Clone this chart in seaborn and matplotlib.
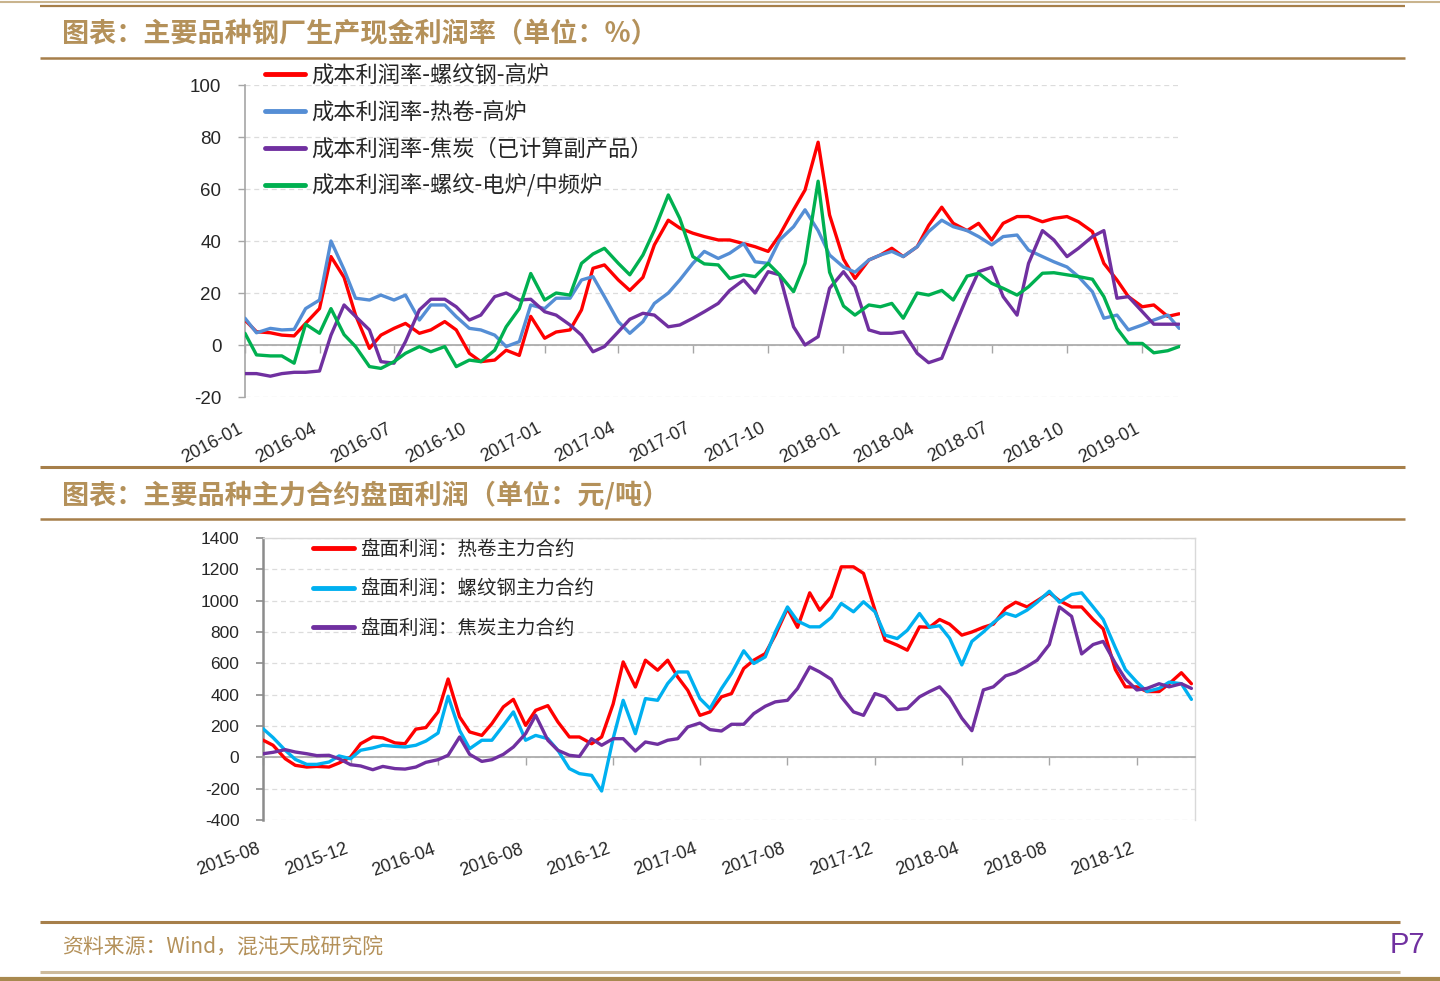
import matplotlib
matplotlib.use('Agg')
import numpy as np
import pandas as pd
import matplotlib.pyplot as plt
import seaborn as sns
from matplotlib.lines import Line2D
from matplotlib import font_manager as fm
import matplotlib.dates as mdates

# ---------------- data ----------------
top_dates = pd.date_range('2016-01-01', periods=76, freq='SMS')
top_labels = ['成本利润率-螺纹钢-高炉', '成本利润率-热卷-高炉',
              '成本利润率-焦炭（已计算副产品）', '成本利润率-螺纹-电炉/中频炉']
top_red = [9.6, 5.1, 4.7, 3.8, 3.5, 8.3, 14, 34, 26, 11.5, -1.3, 3.8, 6.4, 8.3, 4.5, 5.8, 9, 5.8, -3.2, -6.4,
           -5.8, -2, -4, 11, 2.6, 5,
           5.8, 13.5, 29.5, 30.8, 25, 21, 26, 38.5, 48, 45, 43, 41.7, 40.4, 40.4, 39, 37.8, 36, 42.3, 52, 59.6,
           78, 50,
           33, 25.6, 32.7, 34.6, 37.2, 34, 37.8, 46, 53, 46.8, 44, 46.8, 40.4, 46.8, 49.4, 49.4, 47.4, 48.7,
           49.4, 47.4, 43.6, 31.4, 25, 18.6, 14.7, 15.4, 11, 12]
top_blue = [10.3, 4.7, 6.4, 5.8, 6, 14, 17.3, 40, 29, 18, 17.3, 19.2, 17.3, 19.2, 9.6, 15.4, 15.4, 10.9, 6.4,
            5.8, 3.8, -0.6, 1.3, 15.4, 14, 18,
            18, 25, 26.3, 18.6, 9, 4.5, 9, 16, 20, 25, 31.4, 36, 33.3, 35.3, 39, 32, 31.4, 40.4, 45.5, 52, 44,
            34.6,
            30, 28, 32.7, 34.6, 36, 34, 37.8, 43.6, 48, 45.5, 44, 41.7, 38.5, 41.7, 42.3, 36.5, 34, 32, 30,
            26.3, 20.5, 10.3, 11.5, 5.8, 7.7, 9.6, 11.5, 6.4]
top_purple = [-11, -11, -12, -11, -10.5, -10.5, -10, 3.8, 15.4, 11, 5.8, -6.4, -7, 1.3, 13.5, 17.6, 17.6, 14.7,
              9.6, 11.5, 18.6, 20, 17.3, 17.6, 12.8, 11.5,
              7.7, 3.8, -2.6, -0.6, 5.1, 9.9, 12.2, 11.5, 7, 7.7, 10.3, 12.8, 16, 21, 25, 20, 28.2, 27, 7, 0,
              3.2, 21.8,
              28.2, 22.4, 5.8, 4.5, 4.5, 5.1, -3.2, -6.8, -5.1, 5.8, 18.6, 28.2, 29.9, 18.6, 11.5, 31.4, 44,
              40.4, 34, 37.2, 41.7, 44, 18, 18.6, 12.8, 8, 8, 8]
top_green = [4.5, -3.8, -4.2, -4.2, -7, 8, 4.5, 14, 4, -0.6, -8.3, -9, -6.4, -3.2, -0.6, -2.6, -0.6, -8.3,
             -5.8, -6.4, -2, 7, 14, 27.5, 17.3, 20,
             19.2, 31.4, 35, 37.2, 31.4, 27, 34.6, 44.2, 57.7, 48.7, 34, 31.2, 30.8, 25.6, 27, 26.3, 31.4, 27,
             20.5, 31.4, 63, 28,
             15, 11.5, 15.4, 14.7, 16, 10.3, 20, 19.2, 21, 17.3, 26.5, 27.6, 23.7, 21.8, 19.2, 22.4, 27.6, 27.8,
             27, 26.3, 25.3, 18.6, 6.4, 0.6, 0.6, -3, -2.2, -0.6]
top_yticks = [-20, 0, 20, 40, 60, 80, 100]

bot_dates = pd.date_range('2015-08-01', periods=86, freq='SMS')
bot_labels = ['盘面利润：热卷主力合约', '盘面利润：螺纹钢主力合约', '盘面利润：焦炭主力合约']
bot_red = [110, 77, -9, -51, -62, -58, -62, -36, 2, 87, 130, 124, 92, 87, 180, 190, 290, 500, 258, 162, 140,
           215, 322, 370, 204, 300, 330, 226, 130, 130, 87, 130,
           340, 609, 449, 620, 556, 620, 513, 428, 268, 290, 386, 407, 567, 620, 662, 780, 950, 830, 1050, 939,
           1025, 1216, 1216, 1174, 939, 748, 716, 684, 833,
           830, 880, 850, 780, 800, 830, 850, 950, 990, 960, 1000, 1050, 1000, 960, 960, 880, 820, 560, 450,
           450, 420, 420, 470, 540, 470]
bot_blue = [183, 126, 45, -13, -45, -45, -30, 9, -9, 45, 60, 77, 70, 66, 77, 104, 155, 390, 172, 55, 109, 109,
            204, 290, 109, 140, 119, 45, -72, -104, -115, -215,
            120, 364, 151, 375, 364, 471, 545, 545, 375, 311, 439, 535, 680, 599, 641, 800, 960, 870, 833, 833,
            892, 982, 929, 993, 929, 780, 758, 811, 918,
            830, 840, 760, 590, 740, 800, 860, 920, 900, 940, 990, 1060, 990, 1040, 1050, 960, 880, 700, 560,
            480, 420, 440, 480, 470, 370]
bot_purple = [23, 32, 49, 34, 23, 11, 13, -9, -47, -55, -79, -58, -72, -75, -62, -32, -15, 13, 130, 19, -26,
              -15, 19, 66, 151, 268, 109, 45, 13, 6, 119, 77,
              119, 119, 40, 98, 83, 109, 119, 194, 219, 177, 168, 211, 211, 279, 326, 354, 364, 439, 577, 545,
              498, 386, 290, 268, 407, 386, 305, 311, 386,
              420, 450, 380, 250, 170, 430, 450, 520, 540, 580, 620, 720, 960, 900, 660, 720, 740, 600, 500,
              430, 440, 470, 450, 470, 440]
bot_yticks = [-400, -200, 0, 200, 400, 600, 800, 1000, 1200, 1400]

# ---------------- style ----------------
sns.set_style('white')
plt.rcParams['font.family'] = ['Noto Sans CJK SC', 'DejaVu Sans']
plt.rcParams['axes.unicode_minus'] = False
names = {f.name for f in fm.fontManager.ttflist}
LAT = 'Liberation Sans' if 'Liberation Sans' in names else 'DejaVu Sans'
NARROW = 'Liberation Sans Narrow' if 'Liberation Sans Narrow' in names else LAT

W, H = 1440, 981
fig = plt.figure(figsize=(W / 100, H / 100), dpi=100)

GOLD = '#B4915A'
LINEC = '#A67F4A'


def hline(y, x0, x1, color, lw):
    fig.add_artist(Line2D([x0 / W, x1 / W], [1 - y / H, 1 - y / H], transform=fig.transFigure,
                          color=color, lw=lw, solid_capstyle='butt'))


hline(1.5, 0, W, '#C9B48E', 1.5)
hline(6, 40, 1405, LINEC, 1.6)
hline(58, 40, 1405, LINEC, 1.8)
hline(467, 40, 1405, LINEC, 2.2)
hline(519, 40, 1405, LINEC, 1.8)
hline(922, 40, 1400, LINEC, 2.2)
hline(972, 40, 1400, '#CDBB9C', 2.2)
hline(979, 0, W, '#A8894F', 3.0)

fig.text(62 / W, 1 - 34 / H, '图表：主要品种钢厂生产现金利润率（单位：%）', fontsize=19.5, fontweight='bold',
         color=GOLD, va='center', ha='left')
fig.text(62 / W, 1 - 495 / H, '图表：主要品种主力合约盘面利润（单位：元/吨）', fontsize=19.5, fontweight='bold',
         color=GOLD, va='center', ha='left')
fig.text(62 / W, 1 - 948 / H, '资料来源：Wind，混沌天成研究院', fontsize=15, color=GOLD, style='italic',
         va='center', ha='left')
fig.text(1390 / W, 1 - 945 / H, 'P7', fontsize=21, color='#7030A0', family=NARROW, va='center', ha='left')

# ---------------- top chart ----------------
ax1 = fig.add_axes([245 / W, 1 - 397 / H, 935 / W, 312 / H])
top_cols = ['#FF0000', '#558ED5', '#7030A0', '#00B050']
for vals, lab, c in zip([top_red, top_blue, top_purple, top_green], top_labels, top_cols):
    sns.lineplot(x=top_dates, y=vals, ax=ax1, color=c, lw=2.4, label=lab, zorder=3)
ax1.set_xlim(pd.Timestamp('2016-01-01'), pd.Timestamp('2019-02-16'))
ax1.set_ylim(-20, 100)
ax1.set_yticks(top_yticks)
ax1.set_xticks(pd.date_range('2016-01-01', '2019-01-01', freq='QS'))
ax1.xaxis.set_major_formatter(mdates.DateFormatter('%Y-%m'))
ax1.yaxis.grid(True, ls=(0, (4, 3)), color='#DCDCDC', lw=0.9)
ax1.xaxis.grid(False)
for s in ['top', 'right']:
    ax1.spines[s].set_visible(False)
ax1.spines['left'].set_color('#A6A6A6')
ax1.spines['left'].set_linewidth(1.2)
ax1.spines['bottom'].set_position(('data', 0))
ax1.spines['bottom'].set_color('#A6A6A6')
ax1.spines['bottom'].set_linewidth(1.2)
ax1.tick_params(axis='y', direction='out', length=5, width=1, color='#A6A6A6', labelsize=13.5, pad=12,
                labelfontfamily=LAT, left=True)
ax1.tick_params(axis='x', direction='out', length=6, width=1, color='#A6A6A6', labelsize=13, pad=48,
                labelfontfamily=LAT, labelrotation=28, bottom=True)
plt.setp(ax1.get_xticklabels(), ha='right')
ax1.set_xlabel('')
ax1.set_ylabel('')
leg1 = ax1.legend(loc='upper left', bbox_to_anchor=(265 / W, 1 - 64 / H), bbox_transform=fig.transFigure,
                  frameon=False, fontsize=16, handlelength=1.8, handletextpad=0.3, labelspacing=0.62,
                  borderpad=0, borderaxespad=0)
for ln in leg1.get_lines():
    ln.set_linewidth(3.5)

# ---------------- bottom chart ----------------
ax2 = fig.add_axes([263 / W, 1 - 820 / H, 932 / W, 282 / H])
bot_cols = ['#FF0000', '#00B0F0', '#7030A0']
for vals, lab, c in zip([bot_red, bot_blue, bot_purple], bot_labels, bot_cols):
    sns.lineplot(x=bot_dates, y=vals, ax=ax2, color=c, lw=2.4, label=lab, zorder=3)
ax2.set_xlim(pd.Timestamp('2015-08-01'), pd.Timestamp('2019-02-20'))
ax2.set_ylim(-400, 1400)
ax2.set_yticks(bot_yticks)
ax2.set_xticks(pd.date_range('2015-08-01', '2018-12-01', freq='4MS'))
ax2.xaxis.set_major_formatter(mdates.DateFormatter('%Y-%m'))
ax2.yaxis.grid(True, ls=(0, (4, 3)), color='#DCDCDC', lw=0.9)
ax2.xaxis.grid(False)
for s in ['top', 'right']:
    ax2.spines[s].set_visible(True)
    ax2.spines[s].set_color('#D9D9D9')
    ax2.spines[s].set_linewidth(1.0)
ax2.spines['left'].set_color('#8C8C8C')
ax2.spines['left'].set_linewidth(1.8)
ax2.spines['bottom'].set_position(('data', 0))
ax2.spines['bottom'].set_color('#A6A6A6')
ax2.spines['bottom'].set_linewidth(1.2)
ax2.tick_params(axis='y', direction='out', length=5, width=1.2, color='#8C8C8C', labelsize=12.5, pad=12,
                labelfontfamily=LAT, left=True)
ax2.tick_params(axis='x', direction='out', length=6, width=1, color='#A6A6A6', labelsize=13, pad=54,
                labelfontfamily=NARROW, labelrotation=20, bottom=True)
plt.setp(ax2.get_xticklabels(), ha='right')
ax2.set_xlabel('')
ax2.set_ylabel('')
leg2 = ax2.legend(loc='upper left', bbox_to_anchor=(313 / W, 1 - 539 / H), bbox_transform=fig.transFigure,
                  frameon=False, fontsize=14, handlelength=2.1, handletextpad=0.3, labelspacing=0.95,
                  borderpad=0, borderaxespad=0)
for ln in leg2.get_lines():
    ln.set_linewidth(3.5)

fig.savefig('out.png', dpi=100)
